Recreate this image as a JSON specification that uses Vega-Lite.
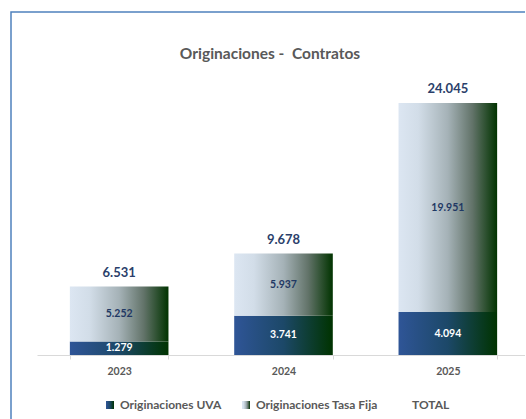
{
  "$schema": "https://vega.github.io/schema/vega-lite/v6.json",
  "autosize": "none",
  "width": 514,
  "height": 407,
  "padding": {"left": 11, "top": 12, "right": 0, "bottom": 0},
  "config": {
    "view": {"stroke": "#4f81bd", "strokeWidth": 1.5, "strokeDash": [514, 921, 407]},
    "locale": {"number": {"decimal": ",", "thousands": ".", "grouping": [3], "currency": ["$", ""]}},
    "font": "Lato"
  },
  "title": {
    "text": "Originaciones -\u00a0 Contratos",
    "orient": "top",
    "anchor": "middle",
    "offset": -57,
    "dx": 2,
    "baseline": "middle",
    "fontSize": 15.5,
    "font": "Lato",
    "fontWeight": "bold",
    "color": "#595959"
  },
  "datasets": {
    "parts": [
      {"year": "2023", "series": "Originaciones UVA", "value": 1279, "o": 1},
      {"year": "2023", "series": "Originaciones Tasa Fija", "value": 5252, "o": 2},
      {"year": "2024", "series": "Originaciones UVA", "value": 3741, "o": 1},
      {"year": "2024", "series": "Originaciones Tasa Fija", "value": 5937, "o": 2},
      {"year": "2025", "series": "Originaciones UVA", "value": 4094, "o": 1},
      {"year": "2025", "series": "Originaciones Tasa Fija", "value": 19951, "o": 2}
    ],
    "totals": [
      {"year": "2023", "total": 6531},
      {"year": "2024", "total": 9678},
      {"year": "2025", "total": 24045}
    ]
  },
  "encoding": {
    "x": {
      "field": "year",
      "type": "nominal",
      "scale": {"range": [26, 519], "paddingInner": 0.4, "paddingOuter": 0.2},
      "axis": {
        "title": null,
        "labelAngle": 0,
        "domainColor": "#d9d9d9",
        "domainWidth": 1,
        "tickColor": "#d9d9d9",
        "tickSize": 4,
        "tickBand": "extent",
        "labelFont": "Lato",
        "labelFontSize": 10.5,
        "labelFontWeight": "bold",
        "labelColor": "#595959",
        "labelPadding": 7,
        "offset": -64,
        "grid": false
      }
    }
  },
  "layer": [
    {
      "data": {"name": "parts"},
      "mark": {"type": "bar"},
      "encoding": {
        "y": {
          "field": "value",
          "type": "quantitative",
          "stack": "zero",
          "scale": {"domain": [0, 25000], "range": [343, 81], "nice": false},
          "axis": null
        },
        "color": {
          "field": "series",
          "type": "nominal",
          "scale": {
            "domain": ["Originaciones UVA", "Originaciones Tasa Fija", "TOTAL"],
            "range": [
              {"expr": "{gradient: 'linear', x1: 0, y1: 0, x2: 1, y2: 0, stops: [{offset: 0, color: '#2f5597'}, {offset: 0.5, color: '#1c4868'}, {offset: 1, color: '#003300'}]}"},
              {"expr": "{gradient: 'linear', x1: 0, y1: 0, x2: 1, y2: 0, stops: [{offset: 0, color: '#dce6f2'}, {offset: 0.2, color: '#d2dde8'}, {offset: 0.5, color: '#a5b2b7'}, {offset: 0.75, color: '#627369'}, {offset: 1, color: '#013300'}]}"},
              "transparent"
            ]
          },
          "legend": {
            "title": null,
            "orient": "none",
            "legendX": 93,
            "legendY": 387,
            "direction": "horizontal",
            "symbolType": "square",
            "symbolSize": 64,
            "symbolStrokeColor": "transparent",
            "symbolStrokeWidth": 0,
            "labelFont": "Lato",
            "labelFontSize": 12,
            "labelFontWeight": "bold",
            "labelColor": "#595959",
            "labelOffset": 4,
            "columnPadding": 18,
            "padding": 0,
            "labelLimit": 300
          }
        },
        "order": {"field": "o", "type": "quantitative"}
      }
    },
    {
      "data": {"name": "parts"},
      "transform": [
        {"stack": "value", "groupby": ["year"], "sort": [{"field": "o"}], "as": ["v0", "v1"]},
        {"calculate": "(datum.v0 + datum.v1) / 2", "as": "mid"}
      ],
      "mark": {"type": "text", "font": "Lato", "fontSize": 10.5, "fontWeight": "bold", "baseline": "middle"},
      "encoding": {
        "y": {"field": "mid", "type": "quantitative", "scale": {"domain": [0, 25000], "range": [343, 81], "nice": false}, "axis": null},
        "text": {"field": "value", "type": "quantitative", "format": ",.0f"},
        "color": {"condition": {"test": "datum.series === 'Originaciones UVA'", "value": "#ffffff"}, "value": "#1f3864"}
      }
    },
    {
      "data": {"name": "totals"},
      "mark": {"type": "text", "font": "Lato", "fontSize": 13, "fontWeight": "bold", "baseline": "middle", "dy": -14, "color": "#2b3f6b"},
      "encoding": {
        "y": {"field": "total", "type": "quantitative", "scale": {"domain": [0, 25000], "range": [343, 81], "nice": false}, "axis": null},
        "text": {"field": "total", "type": "quantitative", "format": ",.0f"}
      }
    }
  ]
}
